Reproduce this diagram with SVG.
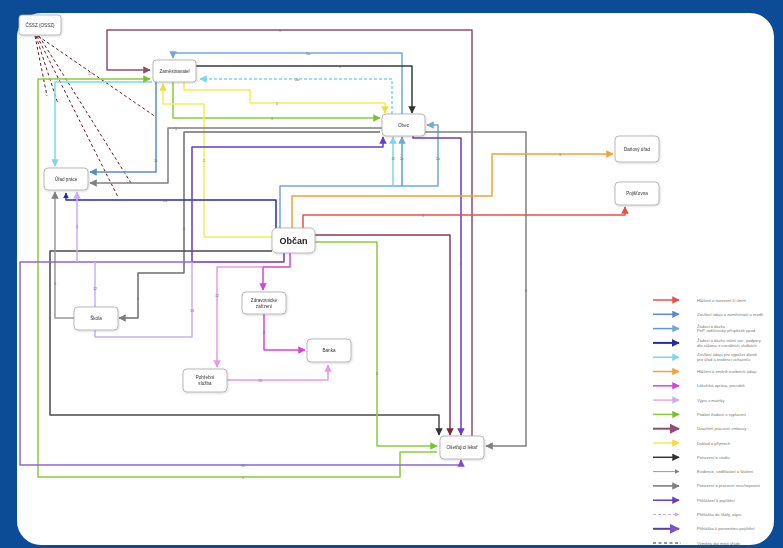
<svg xmlns="http://www.w3.org/2000/svg" width="783" height="548" viewBox="0 0 783 548">
<style>
.box{fill:#fff;stroke:#a9a9a9;stroke-width:0.8}
.nt{font-family:"Liberation Sans",Arial,sans-serif;font-size:4.6px;fill:#333;text-anchor:middle}
.big{font-size:9px;font-weight:bold;fill:#222}
.c{fill:none;stroke-width:1.5;stroke-linejoin:round}
.lt{font-family:"Liberation Sans",Arial,sans-serif;font-size:4.1px;fill:#777}
.lb{font-family:"Liberation Sans",Arial,sans-serif;font-size:3.6px;fill:#666;text-anchor:middle}
</style>
<defs>
<filter id="sh" x="-20%" y="-20%" width="140%" height="150%"><feDropShadow dx="0.6" dy="0.8" stdDeviation="0.8" flood-color="#000" flood-opacity="0.18"/></filter>
<marker id="m-plum" viewBox="0 0 10 10" refX="9" refY="5" markerWidth="5" markerHeight="5" orient="auto"><path d="M0,0L10,5L0,10z" fill="#8e4d72"/></marker>
<marker id="m-lblue" viewBox="0 0 10 10" refX="9" refY="5" markerWidth="5" markerHeight="5" orient="auto"><path d="M0,0L10,5L0,10z" fill="#6fa8dc"/></marker>
<marker id="m-black" viewBox="0 0 10 10" refX="9" refY="5" markerWidth="5" markerHeight="5" orient="auto"><path d="M0,0L10,5L0,10z" fill="#333"/></marker>
<marker id="m-cyan" viewBox="0 0 10 10" refX="9" refY="5" markerWidth="5" markerHeight="5" orient="auto"><path d="M0,0L10,5L0,10z" fill="#7fd6ea"/></marker>
<marker id="m-yellow" viewBox="0 0 10 10" refX="9" refY="5" markerWidth="5" markerHeight="5" orient="auto"><path d="M0,0L10,5L0,10z" fill="#e8e040"/></marker>
<marker id="m-green" viewBox="0 0 10 10" refX="9" refY="5" markerWidth="5" markerHeight="5" orient="auto"><path d="M0,0L10,5L0,10z" fill="#7cc230"/></marker>
<marker id="m-steel" viewBox="0 0 10 10" refX="9" refY="5" markerWidth="5" markerHeight="5" orient="auto"><path d="M0,0L10,5L0,10z" fill="#5a8ccc"/></marker>
<marker id="m-gray" viewBox="0 0 10 10" refX="9" refY="5" markerWidth="5" markerHeight="5" orient="auto"><path d="M0,0L10,5L0,10z" fill="#808080"/></marker>
<marker id="m-dblue" viewBox="0 0 10 10" refX="9" refY="5" markerWidth="4" markerHeight="4" orient="auto"><path d="M0,0L10,5L0,10z" fill="#2a2aa8"/></marker>
<marker id="m-orange" viewBox="0 0 10 10" refX="9" refY="5" markerWidth="5" markerHeight="5" orient="auto"><path d="M0,0L10,5L0,10z" fill="#f0a23a"/></marker>
<marker id="m-red" viewBox="0 0 10 10" refX="9" refY="5" markerWidth="5" markerHeight="5" orient="auto"><path d="M0,0L10,5L0,10z" fill="#e8504a"/></marker>
<marker id="m-maroon" viewBox="0 0 10 10" refX="9" refY="5" markerWidth="5" markerHeight="5" orient="auto"><path d="M0,0L10,5L0,10z" fill="#7a2a40"/></marker>
<marker id="m-indigo" viewBox="0 0 10 10" refX="9" refY="5" markerWidth="5" markerHeight="5" orient="auto"><path d="M0,0L10,5L0,10z" fill="#6a3cc0"/></marker>
<marker id="m-magenta" viewBox="0 0 10 10" refX="9" refY="5" markerWidth="5" markerHeight="5" orient="auto"><path d="M0,0L10,5L0,10z" fill="#d646d6"/></marker>
<marker id="m-pink" viewBox="0 0 10 10" refX="9" refY="5" markerWidth="5" markerHeight="5" orient="auto"><path d="M0,0L10,5L0,10z" fill="#e69ae6"/></marker>
<marker id="m-lav" viewBox="0 0 10 10" refX="9" refY="5" markerWidth="5" markerHeight="5" orient="auto"><path d="M0,0L10,5L0,10z" fill="#c9aef0"/></marker>
<marker id="m-purple" viewBox="0 0 10 10" refX="9" refY="5" markerWidth="5" markerHeight="5" orient="auto"><path d="M0,0L10,5L0,10z" fill="#7a52c8"/></marker>
</defs>

<rect x="0" y="0" width="783" height="548" fill="#0c4c97"/>
<rect x="17" y="13" width="757" height="532" rx="24" fill="#ffffff"/>

<g id="connectors">
  <g stroke="#6a1a2a" stroke-width="1" stroke-dasharray="3,2.5" fill="none">
    <path d="M38,36 L156,117"/>
    <path d="M39,36 L131,183"/>
    <path d="M37,36 L118,197"/>
    <path d="M36,36 L58,104"/>
    <path d="M35,36 L47,96"/>
  </g>
  <path class="c" d="M472,437 V30 H107 V70 H150" stroke="#8e4d72" stroke-width="2" marker-end="url(#m-plum)"/>
  <path class="c" d="M402,114 V53 H173 V58" stroke="#6fa8dc" marker-end="url(#m-lblue)"/>
  <path class="c" d="M196,66 H412 V113" stroke="#3a3a3a" marker-end="url(#m-black)"/>
  <path class="c" d="M392,114 V79 H200" stroke="#7fd6ea" stroke-dasharray="3,2" marker-end="url(#m-cyan)"/>
  <path class="c" d="M184,82 V90 H250 V103 H385 V113" stroke="#f2ee5a" marker-end="url(#m-yellow)"/>
  <path class="c" d="M173,82 V118 H380" stroke="#8ccc3c" marker-end="url(#m-green)"/>
  <path class="c" d="M272,237 H204 V104 H163 V84" stroke="#f2ee5a" marker-end="url(#m-yellow)"/>
  <path class="c" d="M152,82 H55 V166" stroke="#7fd6ea" marker-end="url(#m-cyan)"/>
  <path class="c" d="M437,452 H400 V477 H38 V79 H150" stroke="#8ccc3c" marker-end="url(#m-green)"/>
  <path class="c" d="M156,82 V172 H90" stroke="#5a8ccc" marker-end="url(#m-steel)"/>
  <path class="c" d="M382,128 H168 V183 H90" stroke="#808080" marker-end="url(#m-gray)"/>
  <path class="c" d="M380,132 H184 V273 H138 V318 H119" stroke="#6e6e6e" marker-end="url(#m-gray)"/>
  <path class="c" d="M272,251 H50 V415 H439 V435" stroke="#4a4a4a" marker-end="url(#m-black)"/>
  <path class="c" d="M74,318 H55 V192" stroke="#9a9a9a" stroke-width="1.1" marker-end="url(#m-gray)"/>
  <path class="c" d="M276,228 V200 H66 V193" stroke="#2a2aa8" stroke-width="2" marker-end="url(#m-dblue)"/>
  <path class="c" d="M280,228 V186 H438 V125 H427" stroke="#6fa8dc" marker-end="url(#m-lblue)"/>
  <path class="c" d="M402,186 V137" stroke="#5a9ee0" marker-end="url(#m-lblue)"/>
  <path class="c" d="M393,186 V137" stroke="#7fd6ea" marker-end="url(#m-cyan)"/>
  <path class="c" d="M284,253 V262 H192 V147 H383 V137" stroke="#6a3cc0" marker-end="url(#m-indigo)"/>
  <path class="c" d="M413,135 V138 H461 V435" stroke="#6a3cc0" marker-end="url(#m-indigo)"/>
  <path class="c" d="M425,132 H526 V446 H486" stroke="#808080" marker-end="url(#m-gray)"/>
  <path class="c" d="M292,228 V196 H492 V154 H613" stroke="#f0a23a" marker-end="url(#m-orange)"/>
  <path class="c" d="M303,228 V215 H625 V207" stroke="#e8504a" marker-end="url(#m-red)"/>
  <path class="c" d="M314,235 H450 V435" stroke="#8b3a58" stroke-width="2" marker-end="url(#m-maroon)"/>
  <path class="c" d="M314,242 H377 V446 H437" stroke="#8ccc3c" marker-end="url(#m-green)"/>
  <path class="c" d="M290,253 V267 H263 V290" stroke="#d646d6" marker-end="url(#m-magenta)"/>
  <path class="c" d="M263,267 H217 V367" stroke="#e69ae6" marker-end="url(#m-pink)"/>
  <path class="c" d="M264,314 V350 H305" stroke="#d646d6" stroke-width="2" marker-end="url(#m-magenta)"/>
  <path class="c" d="M227,380 H328 V365" stroke="#e69ae6" marker-end="url(#m-pink)"/>
  <path class="c" d="M284,262 H20 V465 H461 V460" stroke="#8e66d2" stroke-width="2" marker-end="url(#m-purple)"/>
  <path class="c" d="M77,262 V192" stroke="#c9aef0" marker-end="url(#m-lav)"/>
  <path class="c" d="M95,262 V307" stroke="#c9aef0"/>
  <path class="c" d="M95,330 V337 H192 V262" stroke="#c9aef0"/>
  <g class="lb">
    <text x="280" y="32">1</text><text x="308" y="55">2a</text><text x="340" y="68">3</text>
    <text x="297" y="81">2b</text><text x="277" y="105">1</text><text x="272" y="120">1</text>
    <text x="204" y="162">1</text><text x="156" y="162">2c</text><text x="176" y="130">5</text>
    <text x="184" y="230">6</text><text x="138" y="300">6</text><text x="165" y="202">2d</text>
    <text x="438" y="160">2a</text><text x="402" y="160">2c</text><text x="393" y="160">2f</text>
    <text x="560" y="156">1</text><text x="423" y="217">1</text><text x="461" y="265">4</text>
    <text x="526" y="292">6</text><text x="377" y="375">1</text><text x="264" y="334">8</text>
    <text x="260" y="382">10</text><text x="217" y="297">12</text><text x="95" y="290">12</text>
    <text x="77" y="228">1</text><text x="55" y="285">5</text><text x="243" y="467">15</text>
    <text x="243" y="479">1</text><text x="192" y="312">13</text><text x="90" y="75">17</text>
  </g>
</g>

<g id="n-cssz" filter="url(#sh)"><rect class="box" x="19" y="15" width="42" height="20" rx="3"/><text class="nt" x="40" y="27">ČSSZ (OSSZ)</text></g>
<g id="n-zamestnavatel" filter="url(#sh)"><rect class="box" x="153" y="60" width="43" height="22" rx="3"/><text class="nt" x="174.5" y="72.5">Zaměstnavatel</text></g>
<g id="n-obec" filter="url(#sh)"><rect class="box" x="382" y="114" width="43" height="22" rx="4"/><text class="nt" x="403.5" y="127">Obec</text></g>
<g id="n-danovy" filter="url(#sh)"><rect class="box" x="615" y="136" width="44" height="26" rx="4"/><text class="nt" x="637" y="150.5">Daňový úřad</text></g>
<g id="n-pojistovna" filter="url(#sh)"><rect class="box" x="615" y="182" width="44" height="23" rx="4"/><text class="nt" x="637" y="195">Pojišťovna</text></g>
<g id="n-urad-prace" filter="url(#sh)"><rect class="box" x="44" y="168" width="44" height="22" rx="4"/><text class="nt" x="66" y="180.5">Úřad práce</text></g>
<g id="n-obcan" filter="url(#sh)"><rect class="box" x="272" y="228" width="43" height="25" rx="5"/><text class="nt big" x="293.5" y="244">Občan</text></g>
<g id="n-zdrav" filter="url(#sh)"><rect class="box" x="242" y="292" width="44" height="22" rx="4"/><text class="nt" x="264" y="301.5">Zdravotnické</text><text class="nt" x="264" y="307.5">zařízení</text></g>
<g id="n-skola" filter="url(#sh)"><rect class="box" x="74" y="307" width="44" height="23" rx="4"/><text class="nt" x="96" y="320">Škola</text></g>
<g id="n-banka" filter="url(#sh)"><rect class="box" x="307" y="339" width="44" height="23" rx="4"/><text class="nt" x="329" y="352">Banka</text></g>
<g id="n-pohrebni" filter="url(#sh)"><rect class="box" x="183" y="369" width="44" height="23" rx="4"/><text class="nt" x="205" y="378.5">Pohřební</text><text class="nt" x="205" y="384.5">služba</text></g>
<g id="n-lekar" filter="url(#sh)"><rect class="box" x="440" y="436" width="44" height="23" rx="4"/><text class="nt" x="462" y="449">Ošetřující lékař</text></g>

<g id="legend">
  <g stroke-width="1.5" fill="none">
    <path d="M653,300 H679" stroke="#e8504a" marker-end="url(#m-red)"/>
    <path d="M653,314.3 H679" stroke="#5a8ccc" marker-end="url(#m-steel)"/>
    <path d="M653,328.6 H679" stroke="#5a9ee0" marker-end="url(#m-lblue)"/>
    <path d="M653,342.9 H679" stroke="#2a2aa8" stroke-width="2" marker-end="url(#m-dblue)"/>
    <path d="M653,357.2 H679" stroke="#7fd6ea" marker-end="url(#m-cyan)"/>
    <path d="M653,371.5 H679" stroke="#f0a23a" marker-end="url(#m-orange)"/>
    <path d="M653,385.8 H679" stroke="#d646d6" marker-end="url(#m-magenta)"/>
    <path d="M653,400.1 H679" stroke="#d8b0f0" marker-end="url(#m-lav)"/>
    <path d="M653,414.4 H679" stroke="#8ccc3c" marker-end="url(#m-green)"/>
    <path d="M653,428.7 H679" stroke="#8e4d72" stroke-width="2" marker-end="url(#m-plum)"/>
    <path d="M653,443 H679" stroke="#f2ee5a" marker-end="url(#m-yellow)"/>
    <path d="M653,457.3 H679" stroke="#333" marker-end="url(#m-black)"/>
    <path d="M653,471.6 H679" stroke="#9a9a9a" stroke-width="1" marker-end="url(#m-gray)"/>
    <path d="M653,485.9 H679" stroke="#777" marker-end="url(#m-gray)"/>
    <path d="M653,500.2 H679" stroke="#6a3cc0" marker-end="url(#m-indigo)"/>
    <path d="M653,514.5 H679" stroke="#c0b0e8" stroke-width="1" stroke-dasharray="3,2" marker-end="url(#m-lav)"/>
    <path d="M653,528.8 H679" stroke="#5a3aa8" stroke-width="2" marker-end="url(#m-purple)"/>
    <path d="M653,543 H681" stroke="#333" stroke-width="1" stroke-dasharray="3,2.5"/>
  </g>
  <g class="lt">
    <text x="697" y="301.5">Hlášení o narození či úmrtí</text>
    <text x="697" y="315.8">Zasílání údajů o zaměstnání a mzdě</text>
    <text x="697" y="327.6">Žádost o dávku</text><text x="697" y="332.4">PnP, rodičovský příspěvek apod.</text>
    <text x="697" y="341.9">Žádost o dávku státní soc. podpory</text><text x="697" y="346.7">dle zákona o sociálních službách</text>
    <text x="697" y="356.2">Zasílání údajů pro výpočet dávek</text><text x="697" y="361">pro úřad a evidenci uchazečů</text>
    <text x="697" y="373">Hlášení o změně osobních údajů</text>
    <text x="697" y="387.3">Lékařská zpráva, posudek</text>
    <text x="697" y="401.6">Výpis z matriky</text>
    <text x="697" y="415.9">Podání žádosti o vyplacení</text>
    <text x="697" y="430.2">Uzavření pracovní smlouvy</text>
    <text x="697" y="444.5">Doklad o příjmech</text>
    <text x="697" y="458.8">Potvrzení o studiu</text>
    <text x="697" y="473.1">Evidence, vzdělávání a školení</text>
    <text x="697" y="487.4">Potvrzení o pracovní neschopnosti</text>
    <text x="697" y="501.7">Přihlášení k pojištění</text>
    <text x="697" y="516">Přihláška do školy, zápis</text>
    <text x="697" y="530.3">Přihláška k povinnému pojištění</text>
    <text x="697" y="544.5">Výměna dat mezi úřady</text>
  </g>
</g>
</svg>
